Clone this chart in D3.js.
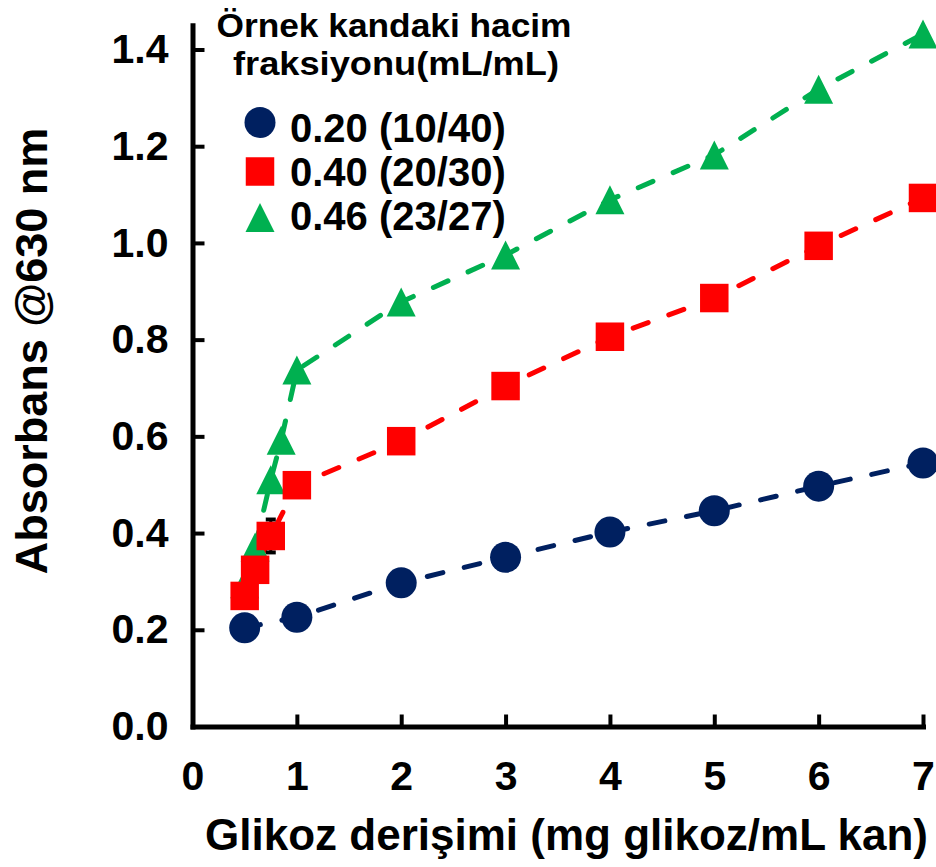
<!DOCTYPE html>
<html>
<head>
<meta charset="utf-8">
<script src="https://cdn.jsdelivr.net/npm/d3@7"></script>
<style>
  html, body { margin: 0; padding: 0; background: #ffffff; }
  svg { display: block; }
  text { font-family: "Liberation Sans", Arial, sans-serif; font-weight: bold; fill: #000; }
</style>
</head>
<body>
<svg id="chart" width="936" height="867"></svg>
<script>
// ---- data ----
const xNavy = [0.5, 1, 2, 3, 4, 5, 6, 7];
const yNavy = [0.204, 0.226, 0.297, 0.350, 0.402, 0.446, 0.497, 0.545];
const xRed = [0.5, 0.6, 0.75, 1, 2, 3, 4, 5, 6, 7];
const yRed = [0.270, 0.324, 0.394, 0.499, 0.590, 0.704, 0.806, 0.886, 0.994, 1.093];
const errRed = [0, 0, 0.034, 0, 0, 0, 0, 0, 0, 0];
const xGreen = [0.5, 0.6, 0.75, 0.85, 1, 2, 3, 4, 5, 6, 7];
const yGreen = [0.295, 0.371, 0.510, 0.592, 0.737, 0.878, 0.975, 1.089, 1.182, 1.318, 1.432];
const seriesNames = ["0.20 (10/40)", "0.40 (20/30)", "0.46 (23/27)"];
const seriesColors = ["#002060", "#FF0000", "#00B050"];
const xTicks = [0, 1, 2, 3, 4, 5, 6, 7];
const yTicks = [0, 0.2, 0.4, 0.6, 0.8, 1.0, 1.2, 1.4];
const legendTitle = ["Örnek kandaki hacim", "fraksiyonu(mL/mL)"];
const xTitle = "Glikoz derişimi (mg glikoz/mL kan)";
const yTitle = "Absorbans @630 nm";

// ---- layout ----
const svg = d3.select("#chart");
const x = d3.scaleLinear().domain([0, 7]).range([192.5, 923]);
const y = d3.scaleLinear().domain([0, 1.45]).range([726.5, 25.3]);

// axes
const xAxis = d3.axisBottom(x).tickValues(xTicks).tickFormat(d3.format("d"))
  .tickSizeInner(-12).tickSizeOuter(0).tickPadding(34);
const yAxis = d3.axisLeft(y).tickValues(yTicks).tickFormat(d3.format(".1f"))
  .tickSizeInner(-12).tickSizeOuter(0).tickPadding(24);

const gx = svg.append("g").attr("transform", `translate(0,${y(0)})`).call(xAxis);
const gy = svg.append("g").attr("transform", `translate(${x(0)},0)`).call(yAxis);
[gx, gy].forEach(g => {
  g.select(".domain").attr("stroke", "#000").attr("stroke-width", 5).attr("stroke-linecap", "square");
  g.selectAll(".tick line").attr("stroke", "#000").attr("stroke-width", 4);
  g.selectAll(".tick text").attr("font-size", 41).attr("font-family", "Liberation Sans, Arial, sans-serif")
    .attr("font-weight", "bold").attr("fill", "#000");
});

// axis titles
svg.append("text").attr("x", 566.5).attr("y", 850).attr("text-anchor", "middle")
  .attr("font-size", 44).text(xTitle);
svg.append("text").attr("transform", `translate(47,351) rotate(-90)`).attr("text-anchor", "middle")
  .attr("font-size", 45).text(yTitle);

// series data
const series = [
  { xs: xNavy, ys: yNavy, errs: null, color: seriesColors[0], shape: "circle" },
  { xs: xRed, ys: yRed, errs: errRed, color: seriesColors[1], shape: "square" },
  { xs: xGreen, ys: yGreen, errs: null, color: seriesColors[2], shape: "triangle" }
];

const triType = {
  draw(ctx, size) {
    const s = Math.sqrt(size);
    ctx.moveTo(0, -s / 2);
    ctx.lineTo(s / 2, s / 2);
    ctx.lineTo(-s / 2, s / 2);
    ctx.closePath();
  }
};
function symPath(shape) {
  if (shape === "circle") return d3.symbol(d3.symbolCircle, Math.PI * 15.5 * 15.5)();
  if (shape === "square") return d3.symbol(d3.symbolSquare, 28.5 * 28.5)();
  return d3.symbol(triType, 29 * 29)();
}

const line = d3.line().x(d => x(d[0])).y(d => y(d[1]));

// lines
series.forEach(s => {
  const pts = s.xs.map((v, i) => [v, s.ys[i]]);
  svg.append("path").datum(pts).attr("d", line).attr("fill", "none")
    .attr("stroke", s.color).attr("stroke-width", 5)
    .attr("stroke-dasharray", "16,22").attr("stroke-linecap", "round");
});

// error bars
series.forEach(s => {
  if (!s.errs) return;
  const eb = svg.append("g");
  s.xs.forEach((v, i) => {
    const e = s.errs[i];
    if (!e) return;
    const cx = x(v), y1 = y(s.ys[i] + e), y2 = y(s.ys[i] - e);
    eb.append("line").attr("x1", cx).attr("x2", cx).attr("y1", y1).attr("y2", y2).attr("stroke", "#000").attr("stroke-width", 3);
    eb.append("line").attr("x1", cx - 5).attr("x2", cx + 5).attr("y1", y1).attr("y2", y1).attr("stroke", "#000").attr("stroke-width", 4);
    eb.append("line").attr("x1", cx - 5).attr("x2", cx + 5).attr("y1", y2).attr("y2", y2).attr("stroke", "#000").attr("stroke-width", 4);
  });
});

// markers (navy, green, then red on top)
[0, 2, 1].forEach(k => {
  const s = series[k];
  svg.append("g").selectAll("path").data(s.xs.map((v, i) => [v, s.ys[i]])).join("path")
    .attr("d", symPath(s.shape))
    .attr("transform", d => `translate(${x(d[0])},${y(d[1])})`)
    .attr("fill", s.color);
});

// legend
svg.append("text").attr("text-anchor", "middle").attr("font-size", 34)
  .attr("x", 394).attr("y", 37).attr("textLength", 355).attr("lengthAdjust", "spacingAndGlyphs")
  .text(legendTitle[0]);
svg.append("text").attr("text-anchor", "middle").attr("font-size", 34)
  .attr("x", 396).attr("y", 75).attr("textLength", 326).attr("lengthAdjust", "spacingAndGlyphs")
  .text(legendTitle[1]);
const legRows = [122.5, 171.5, 217.5];
const legTextBase = [141.5, 185.5, 230];
series.forEach((s, i) => {
  svg.append("path").attr("d", symPath(s.shape)).attr("transform", `translate(260,${legRows[i]})`).attr("fill", s.color);
  svg.append("text").attr("x", 290).attr("y", legTextBase[i]).attr("font-size", 40).text(seriesNames[i]);
});
</script>
</body>
</html>
